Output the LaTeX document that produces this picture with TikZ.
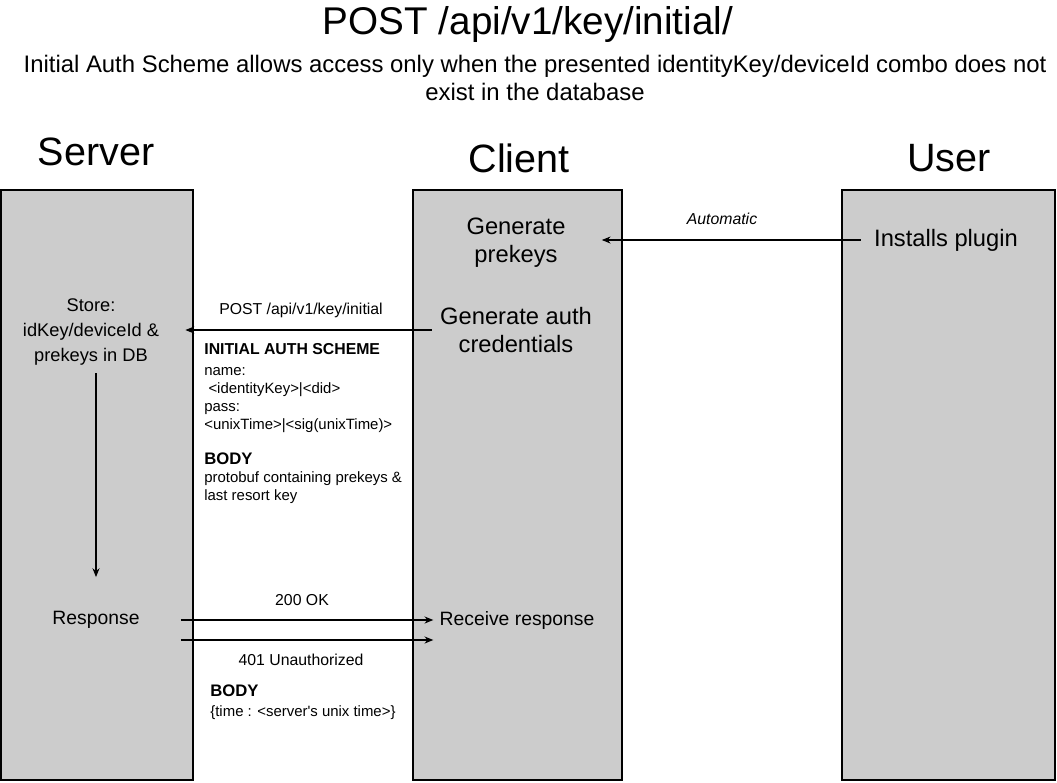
\documentclass[tikz,border=0pt]{standalone}
\usepackage{fontspec}
\setmainfont{Liberation Sans}
\usetikzlibrary{arrows.meta,calc}

\begin{document}
\begin{tikzpicture}[
  x=0.02cm, y=-0.02cm, >={Stealth[length=5pt,width=4pt]},
  lane/.style={draw=black, line width=0.8pt, fill=black!20},
  head/.style={font=\fontsize{22.5}{27}\selectfont, inner sep=0pt},
  act/.style={font=\fontsize{13.5}{16}\selectfont, align=center, inner sep=0pt},
  sact/.style={font=\fontsize{11}{13.6}\selectfont, align=center, inner sep=0pt},
  lbl/.style={font=\fontsize{9}{10.5}\selectfont, inner sep=0pt},
  note/.style={font=\fontsize{8.5}{10.3}\selectfont, align=left, inner sep=0pt, anchor=north west},
  arr/.style={->, line width=0.6pt},
]
\useasboundingbox (0,0) rectangle (1057,782);

%% ====================================================
%% Title
%% ====================================================
\node[font=\fontsize{22}{26}\selectfont, inner sep=0pt] (title) at (528,25) {POST /api/v1/key/initial/};
\node[act, font=\fontsize{13.6}{16}\selectfont] (sub) at (535,78) {Initial Auth Scheme allows access only when the presented identityKey/deviceId combo does not\\exist in the database};

%% ====================================================
%% Lanes
%% ====================================================
\filldraw[lane] (1,190) rectangle (193,780);
\filldraw[lane] (413,190) rectangle (622,780);
\filldraw[lane] (842,190) rectangle (1055,780);

\node[head] (server) at (96,152) {Server};
\node[head] (client) at (519,158) {Client};
\node[head] (user)   at (949,158) {User};

%% ====================================================
%% Steps
%% ====================================================
\node[act]  (prekeys) at (516,243) {Generate\\prekeys};
\node[act]  (plugin)  at (946,240) {Installs plugin};
\node[sact, font=\fontsize{10.4}{14}\selectfont] (store) at (91,332) {Store:\\idKey/deviceId \&\\prekeys in DB};
\node[act]  (cred)    at (516,330) {Generate auth\\credentials};
\node[sact] (resp)    at (96,620)  {Response};
\node[sact] (recv)    at (517,620) {Receive response};

%% Automatic
\draw[arr] ($(plugin.west)+(-13,0)$) -- ($(plugin.west -| prekeys.east)+(36,0)$);
\node[lbl, font=\fontsize{9}{10.5}\selectfont\itshape] (auto) at (722,219) {Automatic};

%% Request
\draw[arr] ($(cred.west)+(-8,0)$) -- ($(cred.west -| store.east)+(26,0)$);
\node[lbl] (post) at (301,310) {POST /api/v1/key/initial};
\node[note] (scheme) at (204,343) {\fontsize{9}{10.5}\selectfont\bfseries INITIAL AUTH SCHEME\\[1.5pt]
name:\\
\ <identityKey>|<did>\\
pass:\\
<unixTime>|<sig(unixTime)>\\[9.5pt]
\fontsize{9.5}{10.5}\selectfont\bfseries BODY\\
protobuf containing prekeys \&\\
last resort key};

%% Server work
\draw[arr, shorten <=0.16cm, shorten >=0.68cm] (store.south -| resp.north) -- (resp.north);

%% Responses
\draw[arr] ($(resp.east)+(41,0)$) -- ($(recv.west)+(-6,0)$);
\draw[arr] ($(resp.east)+(41,20)$) -- ($(recv.west)+(-6,20)$);
\node[lbl] (ok)    at (302,600) {200 OK};
\node[lbl] (unauth) at (301,660) {401 Unauthorized};
\node[note, font=\fontsize{8.5}{11.5}\selectfont] (body) at (210,684) {\fontsize{9.5}{11.5}\selectfont\bfseries BODY\\
\{time : <server\textquotesingle s unix time>\}};

\end{tikzpicture}
\end{document}
